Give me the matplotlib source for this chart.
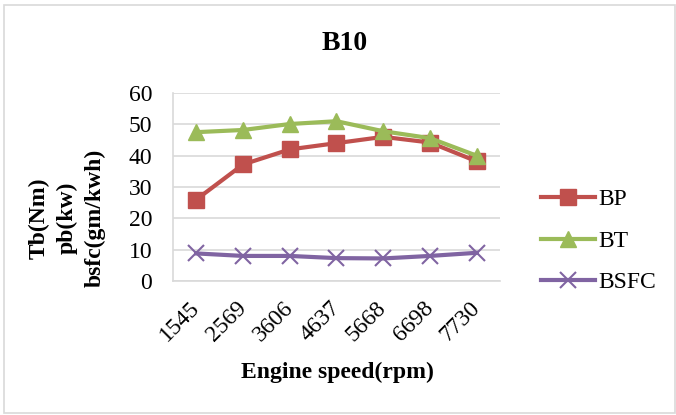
import matplotlib
matplotlib.use("Agg")
import matplotlib.pyplot as plt
from matplotlib.patches import Rectangle

categories = ["1545", "2569", "3606", "4637", "5668", "6698", "7730"]
bp = [26.0, 37.2, 42.0, 44.0, 46.0, 44.2, 38.2]
bt = [47.5, 48.2, 50.1, 51.0, 47.8, 45.6, 40.0]
bsfc = [8.8, 8.0, 8.0, 7.3, 7.2, 8.0, 9.0]
yticks = [0, 10, 20, 30, 40, 50, 60]

plt.rcParams['font.family'] = ['Liberation Serif', 'DejaVu Serif']

W, H = 676, 415
fig = plt.figure(figsize=(W / 100, H / 100), dpi=100)
ax = fig.add_axes([173 / W, 1 - 281 / H, (500 - 173) / W, (281 - 93) / H])

x = list(range(len(categories)))
ax.plot(x, bp, color="#C0504D", lw=3, marker="s", ms=11, label="BP")
ax.plot(x, bt, color="#9BBB59", lw=3, marker="^", ms=12, label="BT")
ax.plot(x, bsfc, color="#8064A2", lw=3, marker="x", ms=11, mew=1.5, label="BSFC")

ax.set_xlim(-0.5, len(categories) - 0.5)
ax.set_ylim(0, 60)
ax.set_yticks(yticks)
ax.set_yticklabels([str(v) for v in yticks], fontsize=17)
ax.set_xticks(x)
ax.set_xticklabels(categories, rotation=45, ha="right", va="center",
                   rotation_mode="anchor", fontsize=17)
ax.tick_params(axis="y", length=0, pad=15)
ax.tick_params(axis="x", length=0, pad=17)
ax.grid(axis="y", color="#d9d9d9", lw=1.2)
ax.set_axisbelow(True)
for s in ["top", "right"]:
    ax.spines[s].set_visible(False)
ax.spines["left"].set_color("#d9d9d9")
ax.spines["bottom"].set_color("#d9d9d9")
ax.spines["left"].set_linewidth(1.2)
ax.spines["bottom"].set_linewidth(1.2)

fig.text(345 / W, 1 - 43 / H, "B10", ha="center", va="center", fontsize=20, fontweight="bold")
fig.text(337 / W, 1 - 372 / H, "Engine speed(rpm)", ha="center", va="center", fontsize=17, fontweight="bold")
fig.text(67 / W, 1 - 218 / H, "Tb(Nm)\npb(kw)\nbsfc(gm/kwh)", ha="center", va="center",
         rotation=90, fontsize=17, fontweight="bold", linespacing=1.4, multialignment="center")

leg = fig.legend(loc="center left", bbox_to_anchor=(541 / W, 1 - 241 / H), frameon=False,
                 fontsize=17, handlelength=2.3, labelspacing=0.85, handletextpad=0.15,
                 borderaxespad=0, borderpad=0)

fig.patches.append(Rectangle((4 / W, 2 / H), 1 - 5 / W, 1 - 7 / H, transform=fig.transFigure,
                             fill=False, edgecolor="#d9d9d9", lw=1.2))

fig.savefig("out.png", dpi=100)
